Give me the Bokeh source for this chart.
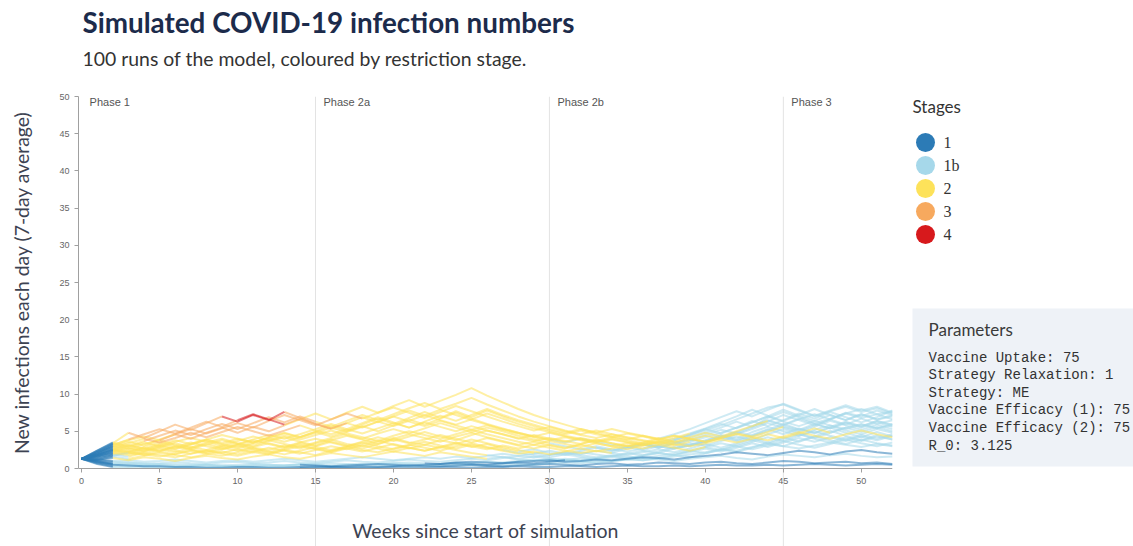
import math
from bokeh.plotting import figure
from bokeh.layouts import row
from bokeh.models import Range1d, Label, Span, Title, FixedTicker
from bokeh.core.properties import value
from bokeh.embed import file_html
from bokeh.resources import INLINE

# ---------------- data ----------------
weeks = list(range(53))
x_ticks = [0, 5, 10, 15, 20, 25, 30, 35, 40, 45, 50]
y_ticks = [0, 5, 10, 15, 20, 25, 30, 35, 40, 45, 50]

stage_codes = ["1", "b", "2", "3", "4"]
stage_names = ["1", "1b", "2", "3", "4"]
stage_colors = ["#2c7bb6", "#a6d8ea", "#fde25a", "#f7a95e", "#d7191c"]

phase_weeks = [0, 15, 30, 45]
phase_names = ["Phase 1", "Phase 2a", "Phase 2b", "Phase 3"]

param_lines = [
    "Vaccine Uptake: 75",
    "Strategy Relaxation: 1",
    "Strategy: ME",
    "Vaccine Efficacy (1): 75",
    "Vaccine Efficacy (2): 75",
    "R_0: 3.125",
]

# weekly 7-day-average values (weeks 0..52) for a sample of runs
run_values = [
    "1.3 0.9 0.5 0.4 0.3 0.3 0.2 0.2 0.1 0.1 0.2 0.2 0.1 0.1 0.2 0.3 0.2 0.2 0.3 0.2 0.3 0.4 0.3 0.3 0.4 0.5 0.4 0.3 0.4 0.5 0.6 0.5 0.4 0.6 0.7 0.5 0.6 0.8 0.7 0.6 0.8 0.9 0.7 0.6 0.8 1.0 0.9 0.7 0.8 0.9 0.7 0.8 0.6",
    "1.3 1.0 0.6 0.5 0.5 0.4 0.4 0.3 0.4 0.3 0.3 0.4 0.3 0.4 0.5 0.4 0.3 0.4 0.5 0.6 0.5 0.4 0.5 0.6 0.7 0.6 0.5 0.7 0.8 0.7 0.9 1.1 1.0 0.8 1.0 1.2 1.4 1.2 1.0 1.3 1.5 1.7 1.4 1.2 1.6 1.9 1.7 1.5 1.8 2.0 1.7 1.5 1.6",
    "1.3 0.7 0.3 0.2 0.3 0.2 0.2 0.3 0.2 0.2 0.3 0.2 0.2 0.3 0.2 0.2 0.3 0.3 0.2 0.3 0.4 0.3 0.3 0.4 0.5 0.4 0.4 0.5 0.6 0.5 0.7 0.8 0.7 0.9 1.0 1.2 1.1 1.3 1.6 1.9 2.2 2.6 2.4 2.9 3.3 3.0 2.7 3.1 3.5 3.2 2.9 3.3 3.0",
    "1.3 1.1 0.9 0.8 0.7 0.6 0.6 0.5 0.5 0.4 0.5 0.6 0.5 0.4 0.5 0.6 0.7 0.6 0.5 0.6 0.7 0.8 0.7 0.6 0.8 0.9 0.8 0.7 0.9 1.0 1.1 0.9 1.0 1.2 1.1 1.3 1.5 1.4 1.2 1.5 1.7 1.9 2.2 2.0 1.8 2.1 2.4 2.2 1.9 2.3 2.5 2.2 2.0",
    "1.3 1.8 2.5 2.2 2.8 2.4 3.0 2.6 2.2 2.9 3.3 2.8 2.5 3.1 2.7 3.4 3.9 3.3 3.0 3.6 4.1 3.5 3.2 3.8 3.4 2.9 3.3 2.7 2.3 2.6 2.1 1.8 2.2 1.9 1.6 2.0 2.4 2.1 2.7 3.2 3.8 4.5 4.0 4.9 5.6 5.0 4.4 5.2 5.8 5.1 4.6 5.3 4.8",
    "1.3 1.5 1.9 1.6 2.1 1.8 1.5 2.0 2.4 2.0 1.7 2.2 1.9 2.5 2.2 1.8 2.4 2.9 2.5 2.2 2.7 3.2 2.8 2.4 3.0 3.4 2.9 2.5 2.1 1.8 1.5 1.9 1.6 1.3 1.7 2.1 1.8 2.3 2.9 3.4 3.1 3.7 4.3 3.8 4.6 5.3 4.7 4.1 4.8 5.5 6.0 5.4 5.8",
    "1.3 2.0 3.0 2.6 3.3 3.8 3.2 2.8 3.5 4.0 3.4 3.0 3.7 4.2 3.6 3.1 3.8 4.4 3.9 3.3 4.0 4.6 4.1 3.6 4.3 4.8 4.2 3.7 3.2 3.6 3.1 2.7 3.2 2.8 2.4 2.9 3.3 2.8 3.4 4.1 4.8 5.5 6.3 5.6 6.8 7.6 6.9 6.1 6.7 7.4 6.8 7.3 6.6",
    "1.3 1.2 1.4 1.1 1.5 1.3 1.0 1.4 1.7 1.4 1.2 1.6 1.9 1.5 1.3 1.7 2.1 1.8 1.5 1.9 2.3 2.0 1.7 2.2 1.9 1.6 1.3 1.6 1.2 1.0 1.3 1.1 0.9 1.2 1.5 1.3 1.7 2.1 1.8 2.4 2.9 2.5 3.2 3.8 3.3 4.0 4.6 4.0 3.5 4.2 3.7 4.3 3.9",
    "1.3 0.9 0.7 0.8 0.6 0.7 0.9 0.7 0.6 0.8 0.9 0.7 0.8 1.0 0.8 0.7 0.9 1.1 0.9 0.8 1.0 1.2 1.0 0.9 1.1 1.3 1.1 1.4 1.7 1.5 1.8 2.2 1.9 2.4 2.1 2.7 3.2 2.8 3.4 3.9 3.5 4.2 4.9 4.4 5.2 6.0 5.3 4.8 5.6 6.3 5.7 6.4 5.9",
    "1.3 1.7 2.2 2.7 2.3 2.9 3.4 2.9 2.5 3.1 2.7 3.3 3.8 3.3 2.9 3.5 4.1 4.7 4.2 3.7 4.4 5.0 4.5 4.0 4.6 5.2 4.6 4.1 3.6 3.2 3.7 3.3 2.9 3.4 3.0 2.6 3.1 3.6 3.2 3.8 4.5 5.2 4.7 5.5 6.3 7.2 6.5 5.8 6.6 7.5 7.0 7.8 7.2",
    "1.3 1.6 2.0 2.4 2.0 2.6 2.2 2.8 3.3 2.8 2.4 2.9 3.4 2.9 3.5 4.0 3.5 3.0 3.6 4.2 3.7 4.3 4.9 4.3 3.8 4.5 5.1 4.6 4.0 4.5 4.0 3.6 4.1 3.7 4.2 3.8 3.4 3.9 4.4 4.0 3.6 4.1 4.6 4.2 3.8 4.3 4.9 4.4 4.0 4.6 5.1 4.6 4.2",
    "1.3 1.9 2.6 3.2 2.7 2.3 2.9 3.5 3.0 2.6 3.2 3.8 3.3 2.8 3.4 3.0 3.6 3.1 2.7 3.3 3.9 3.4 3.9 4.5 4.0 3.5 4.1 3.6 3.1 2.7 3.2 2.8 3.3 3.9 3.4 3.0 3.5 4.1 3.6 4.2 4.8 4.3 5.0 5.7 6.4 5.8 6.6 7.3 6.6 7.4 8.0 7.3 7.7",
    "1.3 2.1 3.2 3.8 4.3 3.8 4.6 5.3 4.7 5.4 6.1 5.5 6.4 7.2 6.5 5.8 6.6 7.4 6.7 7.5 8.2 7.5 6.8 7.6 8.4 7.7 7.0 6.3 5.7 5.1 5.6 5.0 4.5 4.1 4.6 4.1 3.7 3.3 3.8 4.4 5.1 5.8 6.6 7.4 8.2 8.6 7.8 7.0 7.7 8.3 7.6 8.1 7.4",
    "1.3 2.4 3.5 3.0 3.7 4.4 5.1 4.5 5.3 6.0 5.3 6.1 6.9 6.2 7.0 6.3 5.6 6.4 7.2 6.5 7.3 8.1 8.8 8.0 8.7 9.5 8.6 7.8 7.0 6.3 5.7 5.1 4.6 5.1 4.6 4.2 3.8 3.4 3.1 3.6 4.2 4.8 5.5 6.2 7.0 6.3 5.7 6.4 5.8 5.3 5.9 5.4 6.0",
    "1.3 2.2 2.9 3.6 3.1 3.9 4.6 4.0 4.8 5.5 4.8 5.6 5.0 5.8 6.6 7.4 6.6 7.5 8.3 7.5 8.4 9.2 8.3 9.1 9.9 10.8 9.8 8.9 8.0 7.2 6.5 5.9 5.3 4.8 5.3 4.8 4.4 4.0 4.6 5.3 6.1 6.9 7.7 7.0 7.9 8.7 7.9 7.1 7.8 8.5 7.8 8.3 7.5",
    "1.3 2.4 3.4 4.8 4.1 5.0 5.9 5.2 6.1 7.0 6.3 7.2 6.5 7.6 6.8 6.0 5.3 6.1 6.9 6.2 7.0 7.8 7.1 7.9 7.2 6.5 5.9 5.3 4.8 4.3 4.8 4.3 3.9 3.5 3.9 3.5 3.2 3.6 4.1 4.7 5.4 6.2 7.0 7.9 7.1 6.4 7.2 8.0 7.2 6.5 7.3 6.6 7.0",
    "1.3 1.4 1.7 2.1 1.8 2.3 1.9 2.4 2.0 1.7 2.2 2.7 2.3 1.9 2.4 2.9 2.5 3.0 3.5 3.0 2.6 3.1 3.6 3.1 2.7 3.2 2.8 2.4 2.0 2.3 1.9 2.3 2.7 2.3 2.7 3.1 2.7 3.2 2.8 2.4 2.9 3.4 3.0 3.6 4.2 3.7 4.4 5.0 4.4 3.9 4.5 4.0 4.6",
    "1.3 2.3 3.3 2.8 2.4 3.0 2.6 3.2 3.8 3.3 2.9 3.5 4.1 3.6 4.2 4.9 4.3 5.0 5.7 5.0 5.8 6.6 5.9 6.7 7.5 6.7 6.0 5.4 4.8 4.3 3.9 3.5 4.0 3.6 3.2 2.9 3.3 3.0 2.7 3.1 3.6 4.2 4.9 5.7 6.5 5.9 6.7 6.0 5.4 6.1 5.5 6.2 5.6",
    "1.3 1.1 1.6 1.3 1.7 2.1 1.8 1.5 1.9 2.3 1.9 2.4 2.0 2.5 3.0 2.6 2.2 2.7 2.3 2.8 3.3 2.8 2.4 2.9 2.5 2.1 1.8 1.5 1.3 1.6 1.3 1.1 1.4 1.2 1.0 1.3 1.1 1.4 1.8 1.5 2.0 2.6 2.2 2.8 3.5 3.0 3.7 4.3 3.8 3.3 3.9 3.4 3.1",
    "1.3 1.8 2.4 2.0 2.6 3.2 2.7 3.3 3.9 3.4 4.0 3.5 4.2 4.8 4.2 5.0 5.8 5.1 5.9 6.7 6.0 6.8 7.6 6.8 7.7 6.9 7.8 7.0 6.3 5.7 5.1 4.6 5.1 4.6 4.2 4.7 4.3 3.9 4.4 4.0 3.6 4.1 4.7 4.3 4.9 5.6 5.1 5.8 6.6 5.9 6.7 6.0 6.5",
    "1.3 1.6 2.3 2.9 3.5 3.0 3.6 4.1 3.6 3.1 3.7 4.3 3.8 4.4 3.9 4.5 5.1 4.5 4.0 4.7 5.3 4.7 5.4 6.1 5.5 4.9 5.5 5.0 4.4 3.9 3.4 3.0 2.6 3.0 2.6 2.3 2.7 3.2 3.8 4.5 5.3 4.7 5.5 6.4 5.7 6.5 7.4 6.7 7.6 6.9 6.2 6.9 7.8",
    "1.3 1.3 1.8 2.2 1.9 1.6 2.0 2.5 2.1 2.6 3.1 2.6 2.2 2.7 3.2 2.7 2.3 2.8 3.3 3.8 3.2 2.7 3.2 2.8 3.3 3.9 3.4 2.9 2.5 2.1 1.8 2.1 1.8 1.5 1.8 1.6 1.4 1.7 2.0 2.4 2.1 2.5 3.0 2.6 3.1 3.7 3.2 2.8 3.3 3.9 3.4 3.0 3.5",
    "1.3 0.8 0.5 0.6 0.4 0.5 0.3 0.4 0.5 0.4 0.3 0.4 0.5 0.4 0.6 0.5 0.4 0.5 0.6 0.5 0.7 0.6 0.5 0.6 0.8 0.7 0.9 0.8 1.0 1.2 1.0 1.3 1.1 1.4 1.7 1.4 1.8 2.1 1.8 2.2 2.7 2.3 2.8 3.4 2.9 3.5 4.1 3.6 4.2 3.7 4.3 3.8 4.4",
    "1.3 2.0 2.8 3.4 4.0 3.5 4.1 4.8 4.2 4.9 5.6 5.0 4.4 5.1 5.8 5.1 4.6 5.3 4.7 5.4 6.1 5.5 6.2 5.6 5.0 5.7 5.1 4.6 4.1 3.7 4.1 3.7 3.3 3.8 3.4 3.0 3.4 3.0 2.7 3.1 3.6 4.2 3.7 4.3 5.0 5.8 5.2 6.0 5.4 6.2 5.6 6.4 5.8",
    "1.3 1.9 2.7 2.3 2.9 3.5 3.0 2.6 3.2 3.8 3.3 3.9 4.5 4.0 4.6 5.3 6.0 5.3 6.1 6.9 6.2 5.5 6.3 7.1 6.4 7.2 8.0 7.2 6.5 5.9 5.3 4.8 5.3 4.8 4.3 3.9 4.4 3.9 3.5 3.9 4.4 4.0 4.6 5.3 6.1 5.5 4.9 5.6 6.4 5.8 5.2 5.9 5.3",
    "1.3 1.2 1.0 1.1 0.9 1.0 1.2 1.0 0.8 1.0 1.1 0.9 1.1 1.3 1.1 0.9 1.1 1.3 1.5 1.3 1.1 1.3 1.5 1.3 1.6 1.4 1.7 2.0 1.7 2.0 2.4 2.0 2.4 2.8 2.4 2.9 2.5 3.0 3.6 3.1 3.7 4.4 3.8 4.5 5.3 4.6 5.4 4.7 5.5 4.8 4.2 4.9 4.3",
    "1.3 1.7 2.1 1.8 2.3 2.8 2.4 2.0 2.5 2.1 2.6 2.2 2.8 2.4 2.0 2.5 3.0 2.6 3.1 2.7 2.3 2.8 2.4 2.9 3.5 3.0 2.6 3.1 2.7 3.2 2.8 2.4 2.1 2.4 2.1 1.8 2.2 2.6 2.2 2.7 3.3 2.8 3.4 4.1 3.5 4.2 3.6 4.3 5.1 4.4 3.8 4.5 3.9",
    "1.3 0.6 0.2 0.3 0.2 0.1 0.2 0.1 0.1 0.2 0.1 0.1 0.1 0.2 0.1 0.1 0.2 0.1 0.1 0.1 0.2 0.1 0.1 0.2 0.2 0.1 0.2 0.2 0.3 0.2 0.2 0.3 0.3 0.2 0.3 0.4 0.3 0.3 0.4 0.3 0.4 0.5 0.4 0.4 0.5 0.4 0.5 0.6 0.5 0.4 0.5 0.6 0.5",
    "1.3 2.2 3.1 3.9 4.6 5.3 4.7 5.5 6.3 5.6 6.5 7.3 6.6 5.9 6.7 6.0 5.4 6.1 5.5 6.3 7.0 6.3 5.7 6.4 5.8 5.2 5.8 5.2 4.7 4.2 3.8 4.2 3.8 3.4 3.0 3.4 3.1 3.5 4.0 4.6 5.3 6.0 5.4 6.2 7.0 7.9 7.1 6.4 7.2 6.5 7.3 6.6 7.2",
    "1.3 1.8 2.5 3.1 2.6 3.2 3.8 3.3 3.9 4.5 4.0 3.5 4.1 4.7 4.2 4.8 5.5 4.9 5.6 6.3 5.7 6.4 7.2 6.5 5.9 6.6 7.4 6.7 6.0 5.4 4.9 4.4 4.0 3.6 4.0 3.6 3.3 3.7 3.3 3.0 3.4 3.9 3.5 4.0 4.6 4.1 4.7 5.4 4.8 5.5 4.9 5.6 5.0",
]

# restriction stage in force during each week of each run (1, b=1b, 2, 3, 4)
run_stages = [
    "1" * 53,
    "11" + "b" * 12 + "1" * 17 + "b" * 22,
    "11" + "b" * 51,
    "11" + "b" * 20 + "1" * 31,
    "11" + "2" * 26 + "b" * 25,
    "11b" + "2" * 24 + "b" * 26,
    "11" + "2" * 31 + "b" * 20,
    "11" + "2" * 24 + "b" * 27,
    "11" + "b" * 51,
    "11" + "2" * 36 + "b" * 15,
    "11" + "2" * 51,
    "11" + "2" * 42 + "b" * 9,
    "11" + "222" + "3" * 13 + "2" * 20 + "b" * 15,
    "11" + "22" + "3" * 11 + "2" * 24 + "b" * 14,
    "11" + "2222" + "3" * 7 + "2" * 24 + "b" * 16,
    "11" + "2" + "3" * 6 + "4" * 4 + "333" + "2" * 23 + "b" * 14,
    "11b" + "2" * 37 + "b" * 13,
    "11" + "2" * 28 + "b" * 23,
    "11b" + "2" * 23 + "b" * 27,
    "11" + "2" * 43 + "b" * 8,
    "11" + "2" * 28 + "b" * 23,
    "11b" + "2" * 26 + "b" * 24,
    "11" + "b" * 51,
    "11" + "22" + "3" * 10 + "2" * 22 + "b" * 17,
    "11" + "2" * 39 + "b" * 12,
    "11" + "b" * 51,
    "11" + "2" * 32 + "b" * 19,
    "11" + "b" * 12 + "1" * 39,
    "11" + "2" + "3" * 7 + "4" * 3 + "3" * 4 + "2" * 20 + "b" * 16,
    "11" + "2" * 46 + "b" * 5,
]

y_title = "New infections each day (7-day average)"
x_title = "Weeks since start of simulation"
main_title = "Simulated COVID-19 infection numbers"
sub_title = "100 runs of the model, coloured by restriction stage."

# ---------------- build coloured segments ----------------
segs = {c: ([], []) for c in stage_codes}
for vals_s, st in zip(run_values, run_stages):
    vals = [float(v) for v in vals_s.split()]
    n = min(len(vals), len(st) + 1, len(weeks))
    i = 0
    while i < n - 1:
        c = st[i]
        j = i
        while j < n - 1 and st[j] == c:
            j += 1
        segs[c][0].append(weeks[i:j + 1])
        segs[c][1].append(vals[i:j + 1])
        i = j

FONT = "Lato"

# ---------------- left strip: vertical y-axis title ----------------
# frames in a row are aligned, so this strip's frame spans page pixels 96..546
lft = figure(width=45, height=546, x_range=Range1d(0, 45), y_range=Range1d(546, 96),
             output_backend="svg", toolbar_location=None, x_axis_type=None, y_axis_type=None,
             title=None, min_border=0)
lft.outline_line_color = None
lft.grid.visible = False
lft.text(x=[21], y=[282], text=[y_title], angle=math.pi / 2, text_align="center",
         text_baseline="middle", text_font=value(FONT), text_font_size="19.4px",
         text_color="#3d4352")

# ---------------- main chart ----------------
p = figure(width=855, height=546, x_range=Range1d(-0.2, 52), y_range=Range1d(-10.48, 50),
           output_backend="svg", toolbar_location=None, title=None,
           min_border_left=33, min_border_right=8, min_border_top=96, min_border_bottom=0)
p.outline_line_color = None
p.grid.visible = False

for wk in phase_weeks[1:]:
    p.add_layout(Span(location=wk, dimension="height", line_color="#e3e3e3",
                      line_width=1, level="underlay"))
for wk, nm in zip(phase_weeks, phase_names):
    p.add_layout(Label(x=wk, y=50, x_offset=8, y_offset=-5, text=nm,
                       text_font="Liberation Sans", text_font_size="11px",
                       text_color="#555555", text_baseline="middle"))

draw_order = ["b", "2", "3", "4", "1"]
for c in draw_order:
    k = stage_codes.index(c)
    xs, ys = segs[c]
    if xs:
        p.multi_line(xs=xs, ys=ys, line_color=stage_colors[k], line_alpha=0.55, line_width=2.0)

p.xaxis.fixed_location = 0
p.yaxis.bounds = (0, 50)
p.xaxis.ticker = FixedTicker(ticks=x_ticks)
p.yaxis.ticker = FixedTicker(ticks=y_ticks)
for ax in (p.xaxis, p.yaxis):
    ax.minor_tick_line_color = None
    ax.major_tick_in = 0
    ax.major_tick_out = 4
    ax.axis_line_color = "#a0a0a0"
    ax.major_tick_line_color = "#a0a0a0"
    ax.major_label_text_font = "Liberation Sans"
    ax.major_label_text_font_size = "9px"
    ax.major_label_text_color = "#666666"
    ax.axis_label_text_font = FONT
    ax.axis_label_text_font_style = "normal"
    ax.axis_label_text_color = "#3d4352"
p.xaxis.axis_label = x_title
p.xaxis.axis_label_text_font_size = "19.5px"
p.xaxis.axis_label_standoff = 32

p.add_layout(Title(text=sub_title, align="left", offset=4, standoff=53, text_font=FONT,
                   text_font_size="19.4px", text_font_style="normal",
                   text_color="#333333"), "above")
p.add_layout(Title(text=main_title, align="left", offset=4, standoff=-41, text_font=FONT,
                   text_font_size="27.8px", text_font_style="bold",
                   text_color="#1c2b4b"), "above")

# ---------------- side panel: legend + parameters ----------------
s = figure(width=233, height=546, x_range=Range1d(0, 233), y_range=Range1d(546, 96),
           output_backend="svg", toolbar_location=None, x_axis_type=None, y_axis_type=None,
           title=None, min_border=0)
s.outline_line_color = None
s.grid.visible = False

s.text(x=[12], y=[106], text=["Stages"], text_font=value(FONT), text_font_size="17px",
       text_color="#333333", text_baseline="middle")
leg_y = [142 + 23 * i for i in range(len(stage_names))]
s.scatter(x=[25] * len(stage_names), y=leg_y, size=19, color=stage_colors, line_color=None)
s.text(x=[43] * len(stage_names), y=leg_y, text=stage_names, text_font=value("Liberation Serif"),
       text_font_size="16px", text_color="#333333", text_baseline="middle")

s.quad(left=[12], right=[260], top=[308], bottom=[466], fill_color="#eef2f7", line_color=None)
s.text(x=[28], y=[329], text=["Parameters"], text_font=value(FONT), text_font_size="17px",
       text_color="#3a3a3a", text_baseline="middle")
par_y = [357 + 17.6 * i for i in range(len(param_lines))]
s.text(x=[28] * len(param_lines), y=par_y, text=param_lines, text_font=value("Liberation Mono"),
       text_font_size="14px", text_color="#333333", text_baseline="middle")

layout = row(lft, p, s)
open("out.html", "w").write(file_html(layout, INLINE))
